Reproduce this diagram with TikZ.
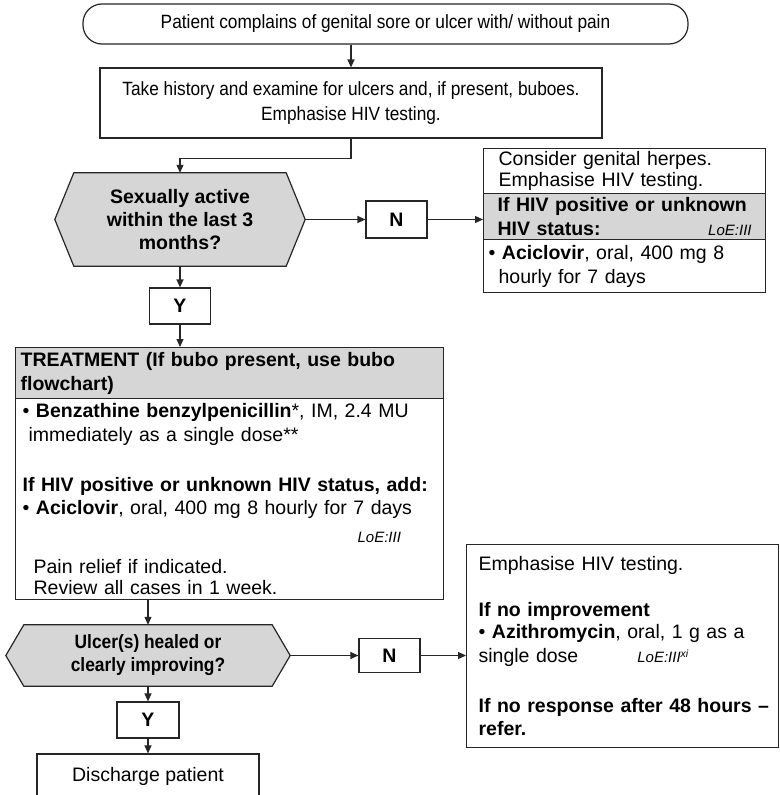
\documentclass[tikz,border=0pt]{standalone}
\usepackage{fontspec}
\setmainfont{Liberation Sans}
\newfontfamily\narrowfont{Liberation Sans}[FakeStretch=0.9]
\usetikzlibrary{arrows.meta,backgrounds}
\newcommand{\bigtxt}{\fontsize{19.5}{24}\selectfont}
\newcommand{\smtxt}{\narrowfont\fontsize{19.2}{25}\selectfont}
\newcommand{\loe}[1]{{\mdseries\itshape\fontsize{15}{17}\selectfont LoE:#1}}
\tikzstyle{box}=[draw=black!85,line width=1.2pt,fill=white,inner sep=0pt,font=\bigtxt]
\tikzstyle{greybox}=[box,fill=black!16]
\tikzstyle{textbox}=[anchor=north west,align=left]
\tikzstyle{yn}=[box,font=\bigtxt\bfseries,minimum width=61pt]
\tikzstyle{decision}=[font=\bigtxt\bfseries,align=center,inner sep=0pt]
\tikzstyle{hexagon}=[draw=black!85,line width=1.2pt,fill=black!16]
\tikzstyle{flow}=[draw=black!85,line width=1.2pt,-{Triangle[length=8pt,width=7pt]}]

\begin{document}
\begin{tikzpicture}[x=1pt,y=-1pt]
    \useasboundingbox (0,0) rectangle (779,795);
    \clip (0,0) rectangle (779,795);
    \node[box,font=\smtxt,rounded corners=19pt,minimum width=605pt,minimum height=40pt] (Start) at (385.5,24) {Patient complains of genital sore or ulcer with/ without pain};
    \node[box,font=\smtxt,align=center,minimum width=502pt,minimum height=70pt] (Hist) at (351,103) {Take history and examine for ulcers and, if present, buboes.\\Emphasise HIV testing.};
    \node[decision,font=\fontsize{19.5}{23}\selectfont\bfseries,minimum width=212pt,minimum height=93pt] (Q1) at (180,219.5) {Sexually active\\within the last 3\\months?};
    \node[yn,minimum height=37pt] (N1) at (396.5,219.5) {N};
    \node[yn,minimum height=36pt] (Y1) at (180,306) {Y};
    \node[box,textbox,font=\fontsize{19.5}{20.5}\selectfont,minimum width=282pt,minimum height=45pt,inner xsep=15pt,text width=252pt] (HerpTop) at (483,148) {Consider genital herpes.\\Emphasise HIV testing.};
    \node[greybox,textbox,font=\bigtxt\bfseries,minimum width=282pt,minimum height=46pt,inner xsep=14pt,text width=254pt] (HerpHd) at (483,193) {If HIV positive or unknown\\HIV status:\hfill\loe{III}\hspace*{37pt}};
    \node[box,textbox,minimum width=282pt,minimum height=53pt,inner xsep=15pt,text width=252pt] (HerpBody) at (483,239) {\hspace*{-10pt}• \textbf{Aciclovir}, oral, 400 mg 8\\hourly for 7 days};
    \node[greybox,textbox,font=\bigtxt\bfseries,minimum width=428pt,minimum height=51pt,inner xsep=5pt,text width=418pt] (TreatHd) at (15,347) {TREATMENT (If bubo present, use bubo\\flowchart)};
    \node[box,textbox,minimum width=428pt,minimum height=201pt,inner xsep=7pt,text width=414pt] (TreatBody) at (15,398) {• \textbf{Benzathine benzylpenicillin}*, IM, 2.4 MU\\
        \hspace*{6pt}immediately as a single dose**\\[26pt]
        \textbf{If HIV positive or unknown HIV status, add:}\\[-1pt]
        • \textbf{Aciclovir}, oral, 400 mg 8 hourly for 7 days\\[4pt]
        \hspace*{335pt}\loe{III}\\[7pt]
        \hspace*{11pt}Pain relief if indicated.\\[-3pt]
        \hspace*{11pt}Review all cases in 1 week.};
    \node[decision,font=\narrowfont\fontsize{19.3}{23}\selectfont\bfseries,minimum width=248pt,minimum height=61pt] (Q2) at (148,655.5) {Ulcer(s) healed or\\clearly improving?};
    \node[yn,minimum height=34pt] (N2) at (389.5,655.5) {N};
    \node[yn,minimum width=62pt,minimum height=36pt] (Y2) at (148,720) {Y};
    \node[box,textbox,minimum width=311.5pt,minimum height=203pt,inner xsep=12pt,text width=287.5pt] (Refer) at (466,544) {Emphasise HIV testing.\\[21.5pt]
        \textbf{If no improvement}\\[-1.5pt]
        • \textbf{Azithromycin}, oral, 1 g as a\\
        single dose\hspace*{59pt}\loe{III\textsuperscript{xi}}\\[25.5pt]
        \mbox{\textbf{If no response after 48 hours –}}\\[-0.5pt]
        \textbf{refer.}};
    \node[box,minimum width=222pt,minimum height=44pt] (Disch) at (148,776) {Discharge patient};
    \begin{scope}[on background layer]
        \draw[hexagon] (Q1.north west) -- (Q1.north east) -- ([xshift=19pt]Q1.east) coordinate (Q1tip)
            -- (Q1.south east) -- (Q1.south west) -- ([xshift=-19pt]Q1.west) -- cycle;
        \draw[hexagon] (Q2.north west) -- (Q2.north east) -- ([xshift=18pt]Q2.east) coordinate (Q2tip)
            -- (Q2.south east) -- (Q2.south west) -- ([xshift=-18pt]Q2.west) -- cycle;
    \end{scope}
    \draw[flow] (Start.south -| Hist.north) -- (Hist.north);
    \draw[flow] (Hist.south) -- ++(0,20) -| (Q1.north);
    \draw[flow] (Q1tip) -- (N1.west);
    \draw[flow] (N1.east) -- (N1.east -| HerpHd.west);
    \draw[flow] (Q1.south) -- (Y1.north);
    \draw[flow] (Y1.south) -- (Y1.south |- TreatHd.north);
    \draw[flow] (Q2.north |- TreatBody.south) -- (Q2.north);
    \draw[flow] (Q2tip) -- (N2.west);
    \draw[flow] (N2.east) -- (N2.east -| Refer.west);
    \draw[flow] (Q2.south) -- (Y2.north);
    \draw[flow] (Y2.south) -- (Disch.north);
\end{tikzpicture}
\end{document}
